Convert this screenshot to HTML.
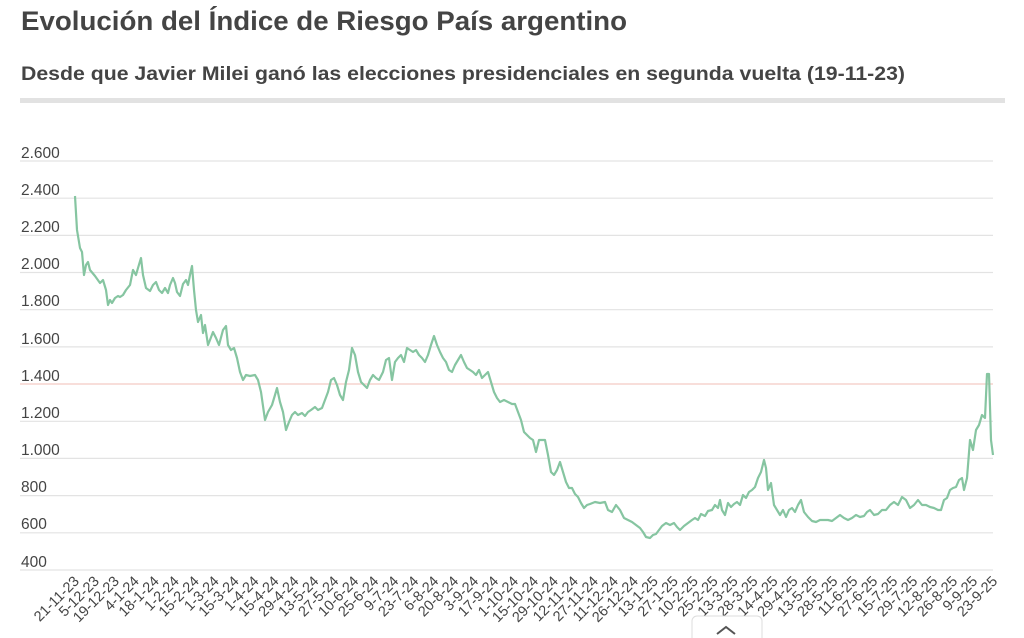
<!DOCTYPE html>
<html><head><meta charset="utf-8"><style>
body{margin:0;width:1024px;height:638px;background:#fff;overflow:hidden;font-family:"Liberation Sans",sans-serif;}
svg{position:absolute;left:0;top:0}
</style></head><body>
<svg width="1024" height="638" xmlns="http://www.w3.org/2000/svg" font-family="Liberation Sans, sans-serif">
<text x="21" y="30" font-size="26.5" font-weight="bold" fill="#444" textLength="606" lengthAdjust="spacingAndGlyphs">Evolución del Índice de Riesgo País argentino</text>
<text x="21" y="80" font-size="19.5" font-weight="bold" fill="#444" textLength="884" lengthAdjust="spacingAndGlyphs">Desde que Javier Milei ganó las elecciones presidenciales en segunda vuelta (19-11-23)</text>
<rect x="20" y="98" width="985" height="5" fill="#e2e2e2"/>
<g stroke="#e3e3e3" stroke-width="1.2">
<line x1="20" x2="993" y1="161" y2="161"/><line x1="20" x2="993" y1="198.2" y2="198.2"/><line x1="20" x2="993" y1="235.4" y2="235.4"/><line x1="20" x2="993" y1="272.5" y2="272.5"/><line x1="20" x2="993" y1="309.7" y2="309.7"/><line x1="20" x2="993" y1="346.9" y2="346.9"/><line x1="20" x2="993" y1="421.3" y2="421.3"/><line x1="20" x2="993" y1="458.4" y2="458.4"/><line x1="20" x2="993" y1="495.6" y2="495.6"/><line x1="20" x2="993" y1="532.8" y2="532.8"/><line x1="20" x2="993" y1="570" y2="570"/>
</g>
<line x1="20" x2="993" y1="384" y2="384" stroke="#f3c9c4" stroke-width="1.2"/>
<g font-size="15.5" fill="#444">
<text x="21" y="158">2.600</text><text x="21" y="195">2.400</text><text x="21" y="232">2.200</text><text x="21" y="269">2.000</text><text x="21" y="306">1.800</text><text x="21" y="344">1.600</text><text x="21" y="381">1.400</text><text x="21" y="418">1.200</text><text x="21" y="455">1.000</text><text x="21" y="492">800</text><text x="21" y="529">600</text><text x="21" y="567">400</text>
</g>
<polyline fill="none" stroke="#86c5a1" stroke-width="2.2" stroke-linejoin="round" points="75,196 77,230 80,248 82,252 84,275 86,265 88,262 90,270 95,276 100,283 103,280 106,290 108,305 110,300 112,303 115,298 118,296 120,297 123,295 126,290 130,285 133,270 136,275 138,268 141,258 143,275 146,288 150,291 153,285 156,282 159,290 162,293 165,288 168,293 170,285 173,278 175,283 177,292 180,296 183,284 186,280 188,285 190,275 192,266 194,290 196,310 198,322 201,315 203,333 205,325 208,345 210,340 213,332 216,338 219,345 223,330 226,326 228,345 231,350 234,348 237,358 240,372 243,380 246,375 250,376 255,375 258,380 261,392 265,420 268,412 272,405 275,395 277,388 280,402 283,412 286,430 289,422 292,415 295,412 298,415 302,413 305,416 308,412 311,410 315,407 318,410 322,408 325,400 328,392 331,380 334,378 337,385 340,395 343,400 346,382 349,370 352,348 355,355 358,372 361,382 364,385 367,388 370,380 373,375 376,378 379,380 383,372 386,360 389,358 392,380 395,362 398,358 401,355 404,362 407,348 410,350 413,352 416,350 419,355 422,358 425,362 428,355 431,345 434,336 437,345 440,352 443,358 446,362 449,370 452,372 455,365 458,360 461,355 464,362 467,368 470,370 473,372 476,375 479,370 482,378 485,375 488,372 491,382 494,392 497,398 500,402 504,400 508,402 512,404 515,404 518,412 521,420 524,432 527,435 530,438 533,440 536,452 539,440 542,440 545,440 548,455 551,472 554,475 557,470 560,462 563,472 566,482 569,488 572,488 575,494 578,497 581,503 584,508 587,505 590,504 595,502 600,503 605,502 608,510 612,512 616,505 620,510 624,518 628,520 632,522 636,525 640,528 643,532 646,537 650,538 653,535 656,534 659,530 662,526 666,523 670,525 674,523 677,527 680,530 684,526 688,523 692,520 695,518 698,520 701,514 705,516 708,511 712,510 715,505 718,508 720,500 722,510 725,515 728,503 731,507 734,504 737,502 740,505 743,495 746,498 749,492 752,490 755,487 758,478 761,472 764,460 766,468 768,490 771,483 774,505 777,510 780,515 783,510 786,517 789,510 792,508 795,512 798,505 801,500 804,512 808,517 812,521 816,522 820,520 824,520 828,520 832,521 836,518 840,515 844,518 848,520 852,518 856,515 860,517 864,516 867,512 870,510 874,515 878,514 882,510 886,510 890,505 894,502 898,505 902,497 906,500 910,508 914,505 918,500 922,505 926,505 930,507 934,508 938,510 941,510 944,500 947,498 950,490 953,488 956,487 959,480 962,478 964,490 967,478 970,440 973,450 976,430 979,425 982,415 985,418 987,374 989,374 991,440 993,455"/>
<g id="lbl" font-size="14.5" fill="#444" text-anchor="end"></g>
<rect x="692" y="616" width="70" height="30" rx="5" fill="#fff" stroke="#ddd"/>
<polyline points="717,634 726,627 735,634" fill="none" stroke="#555" stroke-width="2"/>
</svg>
<script>
var L="21-11-23,5-12-23,19-12-23,4-1-24,18-1-24,1-2-24,15-2-24,1-3-24,15-3-24,1-4-24,15-4-24,29-4-24,13-5-24,27-5-24,10-6-24,25-6-24,9-7-24,23-7-24,6-8-24,20-8-24,3-9-24,17-9-24,1-10-24,15-10-24,29-10-24,12-11-24,27-11-24,11-12-24,26-12-24,13-1-25,27-1-25,10-2-25,25-2-25,13-3-25,28-3-25,14-4-25,29-4-25,13-5-25,28-5-25,11-6-25,27-6-25,15-7-25,29-7-25,12-8-25,26-8-25,9-9-25,23-9-25".split(",");
var g=document.getElementById("lbl"),s="";
for(var i=0;i<L.length;i++){var x=80+i*19.96,y=582;s+='<text x="'+x.toFixed(1)+'" y="'+y+'" transform="rotate(-45 '+x.toFixed(1)+' '+y+')">'+L[i]+'</text>';}
g.innerHTML=s;
</script>
</body></html>
